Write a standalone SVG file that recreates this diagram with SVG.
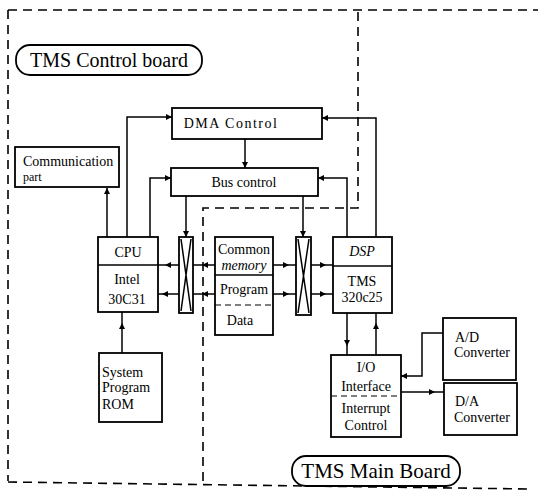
<svg xmlns="http://www.w3.org/2000/svg" width="538" height="500" viewBox="0 0 538 500" font-family="'Liberation Serif', 'DejaVu Serif', 'Times New Roman', serif">
<style>
.box{fill:#fff;stroke:#000;stroke-width:1.8}
.ln{fill:none;stroke:#000;stroke-width:1.5}
.dash{fill:none;stroke:#000;stroke-width:1.6;stroke-dasharray:9 6}
.dv{fill:none;stroke:#000;stroke-width:1.2;stroke-dasharray:6 4}
text{font-family:'Liberation Serif','DejaVu Serif','Times New Roman',serif;font-size:14px;fill:#000}
.c{text-anchor:middle}
.it{font-style:italic}
</style>
<defs>
<marker id="ah" viewBox="0 0 10 10" refX="10" refY="5" markerWidth="7" markerHeight="6" markerUnits="userSpaceOnUse" orient="auto">
<path d="M0,0 L10,5 L0,10 z" fill="#000"/>
</marker>
<marker id="am" viewBox="0 0 10 10" refX="5" refY="5" markerWidth="7" markerHeight="6" markerUnits="userSpaceOnUse" orient="auto">
<path d="M0,0 L10,5 L0,10 z" fill="#000"/>
</marker>
</defs>
<rect width="538" height="500" fill="#fff"/>
<g id="boundaries">
<path class="dash" d="M8,10 H538"/>
<path class="dash" d="M8,10 V481"/>
<path class="dash" d="M8,482 L530,489"/>
<path class="dash" d="M203,481 V208 H358 V10"/>
</g>
<g id="label-control">
<rect x="16" y="45" width="186" height="30" rx="14" class="box" stroke-width="1.5"/>
<text x="109" y="67" class="c" style="font-size:20px">TMS Control board</text>
</g>
<g id="label-main">
<rect x="292" y="456" width="168" height="30" rx="14" class="box" stroke-width="1.5"/>
<text x="376" y="478" class="c" style="font-size:21px">TMS Main Board</text>
</g>
<g id="connectors">
<path class="ln" marker-end="url(#ah)" d="M127,237 V117 H172"/>
<path class="ln" marker-end="url(#ah)" d="M150,237 V178 H171"/>
<path class="ln" marker-end="url(#ah)" d="M107,237 V188"/>
<path class="ln" marker-end="url(#ah)" d="M245,139 V168"/>
<path class="ln" marker-end="url(#ah)" d="M186,196 V237"/>
<path class="ln" marker-end="url(#ah)" d="M303,196 V237"/>
<path class="ln" marker-end="url(#ah)" d="M347,237 V178 H318"/>
<path class="ln" marker-end="url(#ah)" d="M376,237 V118 H322"/>
<path class="ln" marker-mid="url(#am)" d="M179,265 L168,265 L158,265"/>
<path class="ln" marker-mid="url(#am)" d="M179,294 L165,294 L158,294"/>
<path class="ln" marker-mid="url(#am)" d="M215,265 L205,265 L193,265"/>
<path class="ln" marker-mid="url(#am)" d="M215,294 L205,294 L193,294"/>
<path class="ln" marker-mid="url(#am)" d="M273,265 L286,265 L296,265"/>
<path class="ln" marker-mid="url(#am)" d="M273,294 L286,294 L296,294"/>
<path class="ln" marker-mid="url(#am)" d="M311,265 L323,265 L333,265"/>
<path class="ln" marker-mid="url(#am)" d="M311,294 L323,294 L333,294"/>
<path class="ln" marker-mid="url(#am)" d="M347,313 L347,343 L347,355"/>
<path class="ln" marker-mid="url(#am)" d="M376,355 L376,326 L376,313"/>
<path class="ln" marker-end="url(#ah)" d="M443,333 H422 V376 H401"/>
<path class="ln" marker-mid="url(#am)" d="M401,392 L432,392 L444,392"/>
<path class="ln" marker-mid="url(#am)" d="M122,353 L122,326 L122,312"/>
</g>
<g id="dma">
<rect x="172" y="108" width="150" height="31" class="box"/>
<text x="231" y="128" class="c" letter-spacing="1.5">DMA Control</text>
</g>
<g id="bus">
<rect x="171" y="168" width="147" height="28" class="box"/>
<text x="244" y="187" class="c">Bus control</text>
</g>
<g id="comm">
<rect x="15" y="147" width="104" height="40" class="box"/>
<text x="23" y="166">Communication</text>
<text x="23" y="181" style="font-size:12px">part</text>
</g>
<g id="cpu">
<rect x="98" y="237" width="60" height="75" class="box"/>
<line x1="98" y1="265" x2="158" y2="265" class="ln"/>
<text x="128" y="257" class="c">CPU</text>
<text x="127" y="284" class="c">Intel</text>
<text x="127" y="304" class="c">30C31</text>
</g>
<g id="xbar-left">
<rect x="179" y="237" width="14" height="76" class="box"/>
<path class="ln" stroke-width="1.2" d="M181,239 L191,311 M191,239 L181,311"/>
</g>
<g id="memory">
<rect x="215" y="237" width="58" height="98" class="box"/>
<line x1="215" y1="275" x2="273" y2="275" class="ln"/>
<line x1="215" y1="305" x2="273" y2="305" class="dv"/>
<text x="244" y="254" class="c">Common</text>
<text x="244" y="270" class="c it">memory</text>
<text x="244" y="294" class="c">Program</text>
<text x="240" y="325" class="c">Data</text>
</g>
<g id="xbar-right">
<rect x="296" y="237" width="15" height="78" class="box"/>
<path class="ln" stroke-width="1.2" d="M298,239 L309,313 M309,239 L298,313"/>
</g>
<g id="dsp">
<rect x="333" y="237" width="59" height="76" class="box"/>
<line x1="333" y1="266" x2="392" y2="266" class="ln"/>
<text x="362" y="256" class="c it">DSP</text>
<text x="362" y="286" class="c">TMS</text>
<text x="362" y="302" class="c">320c25</text>
</g>
<g id="io">
<rect x="331" y="355" width="70" height="82" class="box"/>
<line x1="331" y1="396" x2="401" y2="396" class="dv"/>
<text x="366" y="372" class="c">I/O</text>
<text x="366" y="391" class="c">Interface</text>
<text x="366" y="413" class="c">Interrupt</text>
<text x="366" y="430" class="c">Control</text>
</g>
<g id="ad">
<rect x="443" y="318" width="73" height="62" class="box"/>
<text x="455" y="342">A/D</text>
<text x="454" y="357">Converter</text>
</g>
<g id="da">
<rect x="444" y="383" width="73" height="52" class="box"/>
<text x="455" y="406">D/A</text>
<text x="454" y="422">Converter</text>
</g>
<g id="rom">
<rect x="99" y="353" width="63" height="69" class="box"/>
<text x="102" y="377">System</text>
<text x="102" y="392">Program</text>
<text x="102" y="409">ROM</text>
</g>
</svg>
